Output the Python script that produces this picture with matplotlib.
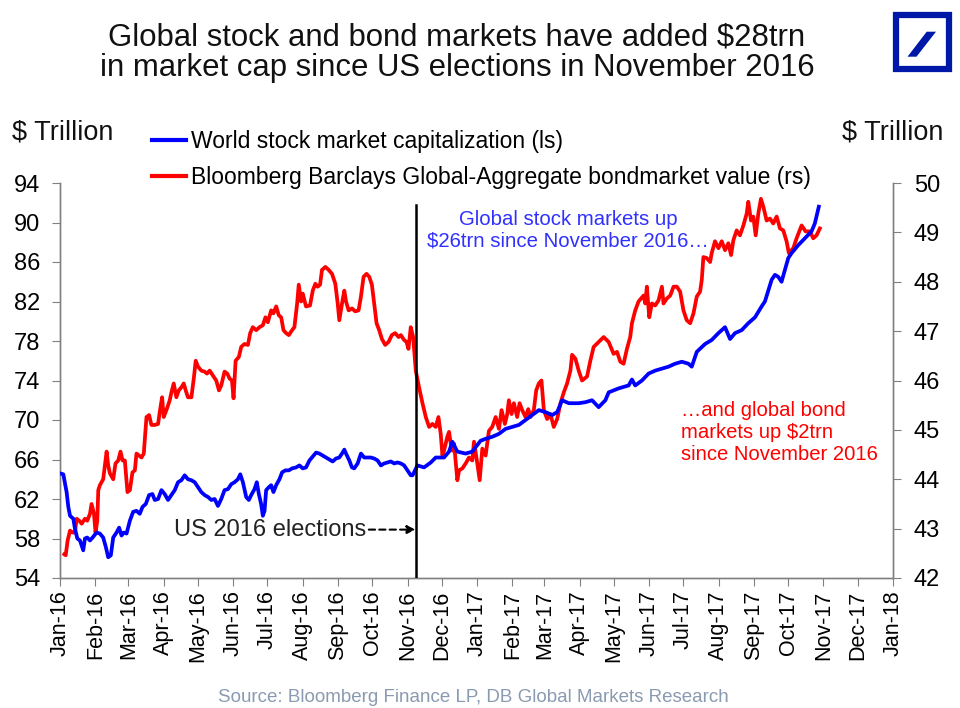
import numpy as np
import pandas as pd
import matplotlib
matplotlib.use("Agg")
import matplotlib.pyplot as plt
import matplotlib.dates as mdates
from matplotlib.patches import Rectangle, Polygon
from matplotlib.lines import Line2D

plt.rcParams['font.family'] = ['Liberation Sans', 'DejaVu Sans']

# ---- Data (days since 2016-01-01, $ trillion) ----
stock_days = [0, 2.9, 5.8, 7.3, 8.8, 11.7, 13.1, 15.2, 17.5, 20.4, 21.9, 23.9, 26.3, 28.6, 32.1, 35.0, 37.9,
              40.3, 42.3, 44.6, 46.7, 49.6, 51.9, 54.0, 56.0, 58.4, 61.3, 64.2, 67.1, 70.0, 72.4, 75.3, 78.2,
              81.1, 83.2, 86.1, 89.0, 91.9, 94.8, 97.8, 100.7, 103.6, 106.5, 109.4, 112.3, 115.3, 118.2, 121.1,
              124.0, 126.9, 129.9, 132.8, 135.7, 138.6, 141.5, 144.4, 147.4, 150.3, 153.2, 156.1, 158.2, 160.5,
              163.4, 165.7, 167.8, 170.7, 172.7, 174.5, 176.5, 178.0, 179.5, 180.9, 183.3, 185.3, 187.3, 189.7,
              192.6, 194.9, 197.8, 200.8, 203.7, 207.2, 210.1, 213.0, 215.9, 218.9, 221.8, 224.7, 227.6, 230.5,
              233.4, 236.4, 239.3, 242.2, 245.1, 248.0, 249.5, 251.0, 253.9, 256.2, 258.2, 261.2, 264.1, 267.0,
              269.9, 272.8, 275.7, 278.7, 281.6, 284.5, 287.4, 290.3, 293.3, 296.2, 299.1, 302.0, 304.9, 307.8,
              309.4, 313.7, 319.5, 325.4, 329.7, 337.0, 341.4, 344.3, 348.7, 356.0, 361.8, 369.1, 373.5, 379.3,
              385.2, 391.0, 396.9, 402.7, 408.5, 414.4, 420.2, 426.0, 431.9, 436.3, 440.6, 446.5, 455.2, 461.0,
              466.9, 472.7, 478.6, 481.5, 490.2, 499.0, 501.9, 504.8, 510.7, 516.5, 522.3, 528.2, 534.0, 539.8,
              545.7, 551.5, 554.4, 558.8, 566.1, 571.9, 577.8, 583.6, 588.0, 592.4, 598.2, 604.0, 609.9, 615.7,
              618.6, 624.5, 627.4, 630.3, 633.2, 636.1, 639.1, 642.0, 647.8, 653.6, 659.5, 662.4, 665.9]
stock_vals = [64.6, 64.5, 62.7, 61.2, 60.3, 60.0, 59.0, 58.0, 57.8, 56.8, 58.0, 58.1, 57.8, 58.1, 58.6, 58.5, 58.1,
              57.1, 56.1, 56.3, 58.1, 58.6, 59.1, 58.3, 58.6, 58.5, 59.8, 60.7, 60.8, 60.5, 61.2, 61.5, 62.4,
              62.5, 61.9, 62.0, 62.9, 62.5, 61.9, 62.4, 62.9, 63.7, 63.9, 64.4, 64.0, 63.9, 63.7, 63.2,
              62.7, 62.4, 62.2, 61.9, 62.0, 61.3, 62.0, 62.9, 63.0, 63.5, 63.7, 64.0, 64.5, 63.7,
              62.2, 61.9, 62.4, 63.0, 63.7, 62.5, 61.5, 60.3, 60.8, 62.9, 63.2, 63.4, 62.7, 63.4,
              64.0, 64.7, 64.9, 64.9, 65.1, 65.2, 65.4, 65.1, 65.2, 65.9, 66.3, 66.7, 66.6, 66.4,
              66.2, 66.0, 65.8, 66.1, 66.2, 66.7, 67.0, 66.6, 65.9, 65.2, 65.1, 65.6, 66.6, 66.2,
              66.2, 66.2, 66.1, 65.9, 65.4, 65.6, 65.7, 65.8, 65.6, 65.7, 65.6, 65.4, 64.9, 64.4,
              64.4, 65.4, 65.2, 65.7, 66.2, 66.2, 66.8, 67.8, 66.8, 66.6, 66.8, 67.9, 68.1, 68.3,
              68.6, 69.1, 69.3, 69.5, 70.0, 70.5, 71.0, 70.8, 70.5, 70.8, 72.0, 71.7, 71.7, 71.8,
              72.0, 71.3, 72.0, 72.8, 73.2, 73.5, 74.1, 73.5, 74.0, 74.7, 75.0, 75.2, 75.4, 75.7,
              75.9, 75.7, 75.4, 76.9, 77.7, 78.1, 78.8, 79.4, 78.2, 78.8, 79.1, 79.8, 80.4, 81.5,
              82.0, 84.2, 84.7, 84.5, 84.0, 85.2, 86.4, 86.9, 87.7, 88.4, 89.1, 89.9, 91.6]

bond_days = [3.8, 5.0, 6.7, 8.8, 11.1, 13.1, 14.6, 16.9, 19.0, 21.9, 23.9, 26.3, 27.7, 29.8, 31.2, 32.7, 33.6,
             35.0, 37.9, 40.9, 42.3, 43.8, 46.7, 48.7, 51.1, 53.1, 54.9, 56.9, 59.2, 61.3, 63.6, 65.7, 67.1,
             69.4, 71.5, 73.5, 75.9, 78.2, 80.2, 83.2, 86.1, 87.5, 89.6, 91.0, 93.4, 96.3, 97.8, 99.8, 102.1,
             104.2, 106.5, 108.6, 110.3, 112.3, 115.3, 117.6, 119.1, 121.1, 124.0, 126.9, 129.0, 131.3, 134.2,
             137.1, 139.5, 141.5, 144.4, 146.8, 148.8, 150.9, 152.3, 154.1, 157.0, 159.0, 161.9, 164.9, 166.9,
             169.2, 172.2, 175.1, 178.0, 180.3, 182.4, 185.3, 187.3, 189.7, 192.0, 194.1, 196.1, 198.4, 200.8,
             203.7, 205.7, 208.1, 209.5, 211.6, 213.0, 215.9, 219.4, 221.8, 224.1, 226.1, 228.2, 229.9, 232.9,
             235.8, 238.7, 241.6, 243.7, 245.1, 247.5, 249.5, 251.0, 253.3, 256.2, 259.1, 262.0, 264.1, 266.4,
             269.0, 271.4, 273.7, 275.7, 277.8, 280.1, 282.5, 285.4, 288.3, 291.2, 294.1, 297.1, 299.1, 302.0,
             304.1, 305.8, 307.8, 309.9, 312.2, 315.1, 318.1, 321.0, 323.9, 326.8, 329.7, 332.1, 334.1, 335.6,
             337.0, 339.9, 341.4, 342.9, 344.3, 345.8, 348.7, 350.2, 353.1, 356.0, 358.9, 361.8, 363.3, 366.2,
             368.3, 370.6, 373.5, 376.4, 379.3, 382.3, 385.2, 387.5, 390.4, 392.5, 393.9, 396.3, 398.3, 401.2,
             403.3, 405.6, 408.5, 410.9, 412.9, 415.8, 417.9, 420.2, 422.5, 424.6, 427.5, 430.4, 433.3, 436.3,
             439.2, 442.1, 445.0, 447.9, 449.4, 452.3, 455.2, 458.1, 462.5, 465.4, 468.3, 472.7, 477.1, 481.5,
             485.8, 488.8, 491.7, 494.6, 497.5, 500.4, 501.9, 504.8, 507.7, 512.1, 513.6, 515.0, 517.1, 519.4,
             522.3, 525.2, 528.2, 529.6, 532.5, 535.5, 538.4, 541.3, 544.2, 547.1, 550.0, 553.0, 555.9, 558.8,
             561.7, 563.2, 564.6, 567.5, 570.5, 571.9, 574.8, 577.8, 580.7, 583.6, 586.5, 588.9, 590.9, 593.8,
             596.7, 599.7, 602.6, 604.0, 606.4, 608.4, 610.5, 612.8, 615.1, 617.2, 620.1, 623.0, 625.9, 628.9,
             631.8, 634.7, 637.6, 639.6, 643.5, 646.4, 650.8, 654.3, 658.1, 661.0, 663.9, 666.8]
bond_vals = [42.48, 42.46, 42.76, 42.96, 42.92, 42.92, 43.20, 43.16, 43.10, 43.20, 43.16, 43.30, 43.50, 43.30,
             42.92, 43.16, 43.78, 43.88, 44.00, 44.56, 44.28, 44.12, 44.00, 44.32, 44.38, 44.56, 44.38, 44.38,
             43.74, 43.78, 44.14, 44.18, 44.52, 44.48, 44.44, 44.52, 45.26, 45.30, 45.10, 45.10, 45.12, 45.36,
             45.66, 45.26, 45.40, 45.60, 45.76, 45.94, 45.66, 45.80, 45.86, 45.94, 45.80, 45.66, 45.66, 46.08,
             46.40, 46.28, 46.20, 46.18, 46.14, 46.20, 46.10, 46.00, 45.80, 45.90, 46.18, 46.14, 46.04, 46.00,
             45.64, 46.40, 46.48, 46.68, 46.74, 46.72, 46.96, 47.08, 47.02, 47.08, 47.12, 47.28, 47.18, 47.42,
             47.36, 47.50, 47.32, 47.28, 47.02, 46.96, 46.92, 47.02, 47.08, 47.56, 47.94, 47.60, 47.76, 47.50,
             47.52, 47.82, 47.96, 47.90, 47.94, 48.24, 48.30, 48.24, 48.16, 47.96, 47.56, 47.22, 47.56, 47.82,
             47.60, 47.42, 47.46, 47.40, 47.42, 47.70, 48.10, 48.16, 48.10, 47.94, 47.56, 47.16, 47.02, 46.84,
             46.72, 46.78, 46.92, 46.96, 46.88, 46.92, 46.82, 46.78, 46.64, 47.08, 46.88, 46.20, 45.86, 45.54,
             45.26, 45.06, 45.12, 45.06, 45.26, 44.92, 44.48, 44.58, 44.86, 44.96, 44.72, 44.58, 44.72, 43.98,
             44.18, 44.22, 44.32, 44.44, 44.38, 44.76, 44.32, 43.98, 44.62, 44.48, 44.98, 45.06, 45.26, 45.02,
             45.40, 45.12, 45.32, 45.60, 45.32, 45.54, 45.26, 45.54, 45.40, 45.26, 45.42, 45.26, 45.40, 45.80,
             45.94, 46.00, 45.40, 45.22, 45.32, 45.06, 45.22, 45.54, 45.76, 45.94, 46.20, 46.52, 46.44, 46.20,
             46.00, 46.08, 46.40, 46.68, 46.78, 46.88, 46.78, 46.54, 46.58, 46.38, 46.34, 46.64, 46.88, 47.16,
             47.42, 47.60, 47.72, 47.56, 47.90, 47.28, 47.56, 47.52, 47.62, 47.90, 47.56, 47.66, 47.72, 47.90,
             47.90, 47.80, 47.42, 47.22, 47.16, 47.36, 47.70, 47.80, 48.04, 48.50, 48.48, 48.40, 48.58, 48.82,
             48.68, 48.82, 48.64, 48.78, 48.54, 48.84, 49.04, 48.94, 49.14, 49.38, 49.62, 49.24, 49.32, 48.94,
             49.38, 49.68, 49.52, 49.24, 49.28, 49.18, 49.32, 49.08, 49.04, 48.82, 48.58, 48.68, 48.88, 49.14,
             49.02, 49.02, 48.88, 48.94, 49.08]

left_ticks = [54, 58, 62, 66, 70, 74, 78, 82, 86, 90, 94]
right_ticks = [42, 43, 44, 45, 46, 47, 48, 49, 50]
election_date = "2016-11-08"
x_start, x_end = "2016-01-01", "2018-01-01"

base = pd.Timestamp("2016-01-01")
stock_dates = base + pd.to_timedelta(np.array(stock_days), unit="D")
bond_dates = base + pd.to_timedelta(np.array(bond_days), unit="D")

BLUE = "#0000ff"
RED = "#ff0000"
SPINE = "#808080"

fig = plt.figure(figsize=(9.6, 7.08), dpi=100)
ax = fig.add_axes([60/960, 1-578/708, (893-60)/960, (578-183)/708])
ax2 = ax.twinx()

ax.plot(stock_dates, stock_vals, color=BLUE, lw=2.7, zorder=3)
ax2.plot(bond_dates, bond_vals, color=RED, lw=2.7, zorder=2)
ax.set_zorder(ax2.get_zorder() + 1)
ax.patch.set_visible(False)

ax.set_xlim(pd.Timestamp(x_start), pd.Timestamp(x_end))
ax.set_ylim(54, 94)
ax2.set_ylim(42, 50)
ax.set_yticks(left_ticks)
ax2.set_yticks(right_ticks)

ax.xaxis.set_major_locator(mdates.MonthLocator())
ax.xaxis.set_major_formatter(mdates.DateFormatter("%b-%y"))
for lbl in ax.get_xticklabels():
    lbl.set_rotation(90)

for a in (ax, ax2):
    a.spines["top"].set_visible(False)
    for s in ("left", "right", "bottom"):
        a.spines[s].set_color(SPINE)
        a.spines[s].set_linewidth(1.0)
ax.tick_params(axis="y", labelsize=17, length=6, color=SPINE, pad=8)
ax2.tick_params(axis="y", labelsize=17, length=6, color=SPINE, pad=9)
ax.tick_params(axis="x", labelsize=15.5, length=6, color=SPINE, pad=3)

# election line
ax.axvline(pd.Timestamp(election_date), ymin=0, ymax=0.945, color="black", lw=1.8, zorder=4)
ax.annotate("", xy=(pd.Timestamp(election_date), 58.9), xytext=(pd.Timestamp("2016-09-28"), 58.9),
            arrowprops=dict(arrowstyle="-|>", linestyle=(0, (3, 2)), color="black", lw=1.5,
                            mutation_scale=12, shrinkA=0, shrinkB=0))
ax.text(pd.Timestamp("2016-09-26"), 58.9, "US 2016 elections", ha="right", va="center",
        fontsize=17, color="#222222")

# annotations
ax.text(pd.Timestamp("2017-03-22"), 89.2, "Global stock markets up\n$26trn since November 2016\u2026",
        ha="center", va="center", fontsize=14.7, color="#3030ff", linespacing=1.18)
ax.text(pd.Timestamp("2017-06-29"), 68.7, "\u2026and global bond\nmarkets up $2trn\nsince November 2016",
        ha="left", va="center", fontsize=14.6, color=RED, linespacing=1.2)

# titles
fig.text(457/960, 1-38/708, "Global stock and bond markets have added $28trn", ha="center", va="center",
         fontsize=22.4, color="#111111")
fig.text(457/960, 1-68/708, "in market cap since US elections in November 2016", ha="center", va="center",
         fontsize=22.4, color="#111111")
fig.text(12/960, 1-132/708, "$ Trillion", ha="left", va="center", fontsize=19.5, color="#111111")
fig.text(943/960, 1-132/708, "$ Trillion", ha="right", va="center", fontsize=19.5, color="#111111")

# legend
handles = [Line2D([], [], color=BLUE, lw=3), Line2D([], [], color=RED, lw=3)]
fig.legend(handles, ["World stock market capitalization (ls)",
                     "Bloomberg Barclays Global-Aggregate bondmarket value (rs)"],
           loc="upper left", bbox_to_anchor=(152/960, 1-130/708), frameon=False, fontsize=16.5,
           handlelength=1.48, handletextpad=0.22, labelspacing=0.55, borderaxespad=0, borderpad=0)

# source
fig.text(473/960, 1-697/708, "Source: Bloomberg Finance LP, DB Global Markets Research", ha="center",
         va="center", fontsize=13.5, color="#8a9ab0")

# logo
def fx(px):
    return px / 960
def fy(py):
    return 1 - py / 708
fig.patches.append(Rectangle((fx(895.5), fy(68.5)), fx(53), 53/708, fill=False, edgecolor="#0018a8",
                             lw=4.5, transform=fig.transFigure, figure=fig))
fig.patches.append(Polygon([(fx(907.5), fy(56.7)), (fx(916.5), fy(56.7)), (fx(936), fy(31.7)),
                            (fx(926.7), fy(31.7))], closed=True, facecolor="#0018a8",
                           edgecolor="none", transform=fig.transFigure, figure=fig))

fig.savefig("out.png", dpi=100, facecolor="white")
